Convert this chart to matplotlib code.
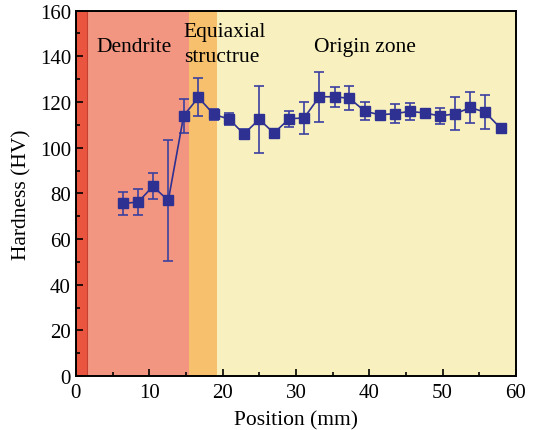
import matplotlib
matplotlib.use("Agg")
import matplotlib.pyplot as plt
from matplotlib.ticker import MultipleLocator

# hardness profile
position = [6.4, 8.5, 10.5, 12.6, 14.7, 16.7, 18.8, 20.9, 22.9, 25.0, 27.0, 29.1, 31.1,
            33.2, 35.3, 37.3, 39.4, 41.4, 43.5, 45.5, 47.6, 49.6, 51.7, 53.8, 55.8, 57.9]
hardness = [75.6, 76.2, 83.1, 76.9, 114.0, 122.0, 114.6, 112.5, 106.0, 112.4, 106.4, 112.7, 113.0,
            122.3, 122.3, 121.6, 116.0, 114.4, 114.9, 115.9, 115.2, 113.9, 114.8, 117.6, 115.5, 108.6]
error = [5.0, 5.7, 5.7, 26.6, 7.4, 8.3, 2.4, 2.5, 2.4, 14.7, 2.0, 3.5, 7.2,
         10.9, 4.4, 5.3, 3.9, 1.0, 4.3, 3.7, 1.0, 3.5, 7.2, 6.6, 7.5, 0.0]

# zone boundaries (mm)
zone_edges = [0, 1.5, 15.4, 19.2, 60]
zone_colors = ["#e9553f", "#f29682", "#f7c06c", "#f8f1bf"]

plt.rcParams["font.family"] = "Liberation Serif"
fig = plt.figure(figsize=(5.38, 4.31), dpi=100)
ax = fig.add_axes([0.141, 0.125, 0.818, 0.848])

for i in range(len(zone_colors)):
    ax.axvspan(zone_edges[i], zone_edges[i + 1], color=zone_colors[i], lw=0, zorder=0)
ax.axvline(zone_edges[1], color="#c5402f", lw=0.8, zorder=0.5)

ax.errorbar(position, hardness, yerr=error, fmt="s-", color="#2e3192", ecolor="#3b40a0",
            ms=6.5, lw=1.2, elinewidth=1.2, capsize=3.5, capthick=1.2, zorder=3)

ax.text(2.8, 144.5, "Dendrite", fontsize=15.5, va="center")
ax.text(14.7, 149, "Equiaxial", fontsize=15.5)
ax.text(14.7, 138, "structrue", fontsize=15.5)
ax.text(32.4, 144.5, "Origin zone", fontsize=15.5, va="center")

ax.set_xlim(0, 60)
ax.set_ylim(0, 160)
ax.xaxis.set_major_locator(MultipleLocator(10))
ax.xaxis.set_minor_locator(MultipleLocator(5))
ax.yaxis.set_major_locator(MultipleLocator(20))
ax.yaxis.set_minor_locator(MultipleLocator(10))
ax.tick_params(which="both", direction="in", labelsize=15, width=1.2)
ax.tick_params(which="major", length=5)
ax.tick_params(which="minor", length=3)
ax.tick_params(axis="x", pad=5)
for s in ax.spines.values():
    s.set_linewidth(1.4)

ax.set_xlabel("Position (mm)", fontsize=15.5, labelpad=6)
ax.set_ylabel("Hardness (HV)", fontsize=15.5, labelpad=6)

fig.savefig("out.png", dpi=100)
